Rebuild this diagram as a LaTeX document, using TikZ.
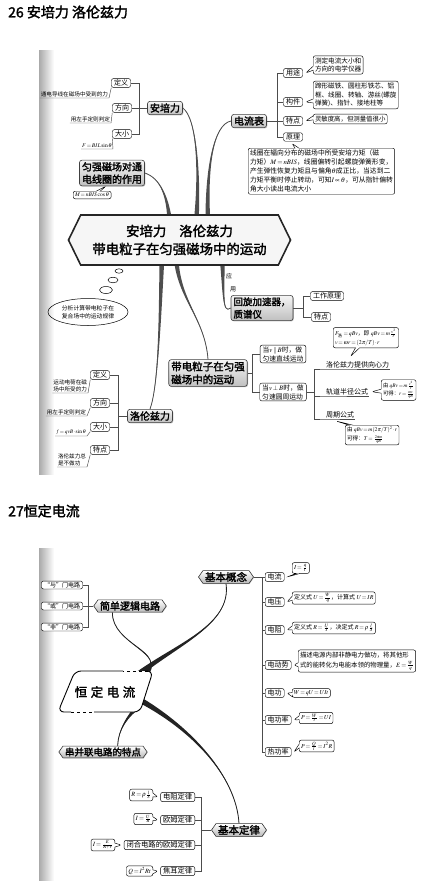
\documentclass[tikz,border=0pt]{standalone}
\usepackage{amsmath}
\usepackage{mathptmx}
\usepackage{fontspec}
\setmainfont{Noto Sans CJK SC}[AutoFakeBold=2]
\usetikzlibrary{shapes.geometric, shapes.symbols, shapes.callouts, shadows, calc, positioning, backgrounds}
\definecolor{branchGray}{RGB}{78, 78, 78}
\definecolor{branchDark}{RGB}{35, 35, 35}
\definecolor{gutterGray}{RGB}{170, 170, 170}

\tikzset{
  leaf/.style={draw, rounded corners=2pt, line width=0.45pt, fill=white, inner xsep=2.5pt, inner ysep=1.2pt, align=center, font=\fontsize{7}{8.5}\selectfont},
  notebox/.style={rectangle callout, draw, rounded corners=2pt, line width=0.45pt, fill=white, inner sep=1.8pt, align=left, callout pointer width=4pt, font=\fontsize{6.6}{8.6}\selectfont},
  uline/.style={inner sep=0.8pt, align=left, font=\fontsize{5.6}{7}\selectfont},
  topic/.style={draw=black!75, line width=0.6pt, rounded corners=2.5pt, top color=gray!8, bottom color=gray!50, drop shadow={shadow xshift=0.8pt, shadow yshift=-0.8pt, opacity=0.5}, inner xsep=2.5pt, inner ysep=2pt, align=left, font=\fontsize{10}{12.5}\selectfont\bfseries},
  hexa/.style={signal, signal to=west and east, signal pointer angle=110, draw=black!80, line width=0.6pt, top color=white, bottom color=gray!55, drop shadow={shadow xshift=0.6pt, shadow yshift=-0.6pt, opacity=0.4}, inner xsep=2pt, inner ysep=1.5pt, font=\fontsize{10}{12}\selectfont\bfseries},
  bracket/.style={line width=0.45pt, black!70},
}

% tapered branch: [half width] thick end, control, control, thin end
\newcommand{\mindbranch}[5][(2.5,0)]{%
  \fill ($(#2)+#1$) .. controls ($(#3)+0.4*#1$) and (#4) .. (#5)
    .. controls (#4) and ($(#3)-0.4*#1$) .. ($(#2)-#1$) -- cycle;
  \draw[line width=0.8pt] (#2) .. controls (#3) and (#4) .. (#5);}

\begin{document}
\thickmuskip=2.5mu plus 1mu \medmuskip=1.5mu plus 1mu
\begin{tikzpicture}[x=1pt, y=-1pt]
\useasboundingbox (0,0) rectangle (440,884);

% ---------- 26 ----------
\node[anchor=west, inner sep=0, font=\fontsize{14}{16}\selectfont\bfseries] (titleA) at (8,12) {26 安培力 洛伦兹力};

% Ampere force
\node[topic] (ampere) at (165,108) {安培力};
\node[leaf] (defA) at (121,83) {定义};
\node[leaf] (dirA) at (122,108) {方向};
\node[leaf] (magA) at (122,134) {大小};
\draw[bracket] (ampere.west) -- ++(-8,0) coordinate (ampJ);
\foreach \k in {defA,dirA,magA} \draw[bracket] (ampJ) |- (\k.east);
\node[uline, anchor=south east] (defAt) at (109,98) {通电导线在磁场中受到的力};
\node[uline, anchor=south east] (dirAt) at (111,123) {用左手定则判定};
\node[uline, anchor=south east, font=\fontsize{5.6}{6}\selectfont] (magAt) at (113,149) {$F=BIL\sin\theta$};
\foreach \b/\t in {defA/defAt, dirA/dirAt, magA/magAt}
  \draw[bracket] (\t.south west) -- (\t.south east) -- (\b.south west);

% coil
\node[topic, align=center] (coil) at (112,173) {匀强磁场对通\\电线圈的作用};
\node[notebox, anchor=north west, font=\fontsize{5.6}{6}\selectfont, callout absolute pointer={($(coil.south)+(-6,0)$)}] (coilF) at (73,191) {$M=nBIS\cos\theta$};

% galvanometer
\node[topic] (galvo) at (249,121) {电流表};
\node[leaf] (useG) at (293,73) {用途};
\node[leaf] (partG) at (293,102) {构件};
\node[leaf] (featG) at (293,121) {特点};
\node[leaf] (prinG) at (293,137) {原理};
\draw[bracket] (galvo.east) -- ++(10,0) coordinate (galJ);
\foreach \k in {useG,partG,featG,prinG} \draw[bracket] (galJ) |- (\k.west);
\node[notebox, anchor=west, callout absolute pointer={($(useG.east)+(3,0)$)}] (useN) at (313,65) {测定电流大小和\\方向的电学仪器};
\node[notebox, anchor=west, callout absolute pointer={($(partG.east)+(3,0)$)}] (partN) at (313,95) {蹄形磁铁、圆柱形铁芯、铝\\框、线圈、转轴、游丝(螺旋\\弹簧)、指针、接地柱等};
\node[notebox, anchor=west, font=\fontsize{6.4}{8}\selectfont, callout absolute pointer={($(featG.east)+(3,0)$)}] (featN) at (313,119) {灵敏度高，但测量值很小};
\node[notebox, anchor=north west, font=\fontsize{6.8}{9}\selectfont, callout absolute pointer={($(prinG.south)+(-1,2)$)}] (prinN) at (248,148) {线圈在辐向分布的磁场中所受安培力矩（磁\\力矩）$M=nBIS$，线圈偏转引起螺旋弹簧形变，\\产生弹性恢复力矩且与偏角$\theta$成正比，当达到二\\力矩平衡时停止转动，可知$I\propto\theta$，可从指针偏转\\角大小读出电流大小};

% centre
\node[signal, signal to=west and east, signal pointer angle=128, draw=black!85, line width=1.6pt, fill=gray!7, minimum width=222pt, minimum height=50pt, align=center, font=\fontsize{13.4}{18}\selectfont\bfseries] (topicA) at (179.5,240) {安培力\hspace{13pt}洛伦兹力\\带电粒子在匀强磁场中的运动};

% thought bubble
\node[draw, ellipse, line width=0.5pt, minimum width=80pt, minimum height=27pt, inner sep=0pt, align=center, font=\fontsize{5.8}{8}\selectfont] (analysis) at (88,312) {分析计算带电粒子在\\复合场中的运动规律};
\draw[line width=0.5pt] (119,271) ellipse (4pt and 2.2pt) (113,280) ellipse (5pt and 2.8pt) (106,290) ellipse (6.5pt and 3.5pt);

% cyclotron
\node[inner sep=0, font=\fontsize{6}{7}\selectfont] (useA) at (229,276) {应};
\node[inner sep=0, font=\fontsize{6}{7}\selectfont] (useB) at (233,289) {用};
\node[topic, font=\fontsize{9.5}{12.5}\selectfont\bfseries] (cyclo) at (262,308) {回旋加速器，\\质谱仪};
\node[leaf] (workC) at (327,296) {工作原理};
\node[leaf] (featC) at (321,317) {特点};
\draw[bracket] (cyclo.east) -- ++(10,0) coordinate (cycJ);
\foreach \k in {workC,featC} \draw[bracket] (cycJ) |- (\k.west);

% motion in field
\node[topic, font=\fontsize{10.5}{13}\selectfont\bfseries] (motion) at (208,373) {带电粒子在匀强\\磁场中的运动};
\node[leaf, align=left, font=\fontsize{6.8}{9}\selectfont] (paraM) at (283,354) {当$v\parallel B$时，做\\匀速直线运动};
\node[leaf, align=left, font=\fontsize{6.8}{9}\selectfont] (perpM) at (283,392) {当$v\perp B$时，做\\匀速圆周运动};
\draw[bracket] (motion.east) -- ++(5,0) coordinate (motJ);
\foreach \k in {paraM,perpM} \draw[bracket] (motJ) |- (\k.west);
\node[uline, anchor=south west, font=\fontsize{7}{8}\selectfont] (centri) at (325,369) {洛伦兹力提供向心力};
\node[uline, anchor=south west, font=\fontsize{7}{8}\selectfont] (radius) at (325,396) {轨道半径公式};
\node[uline, anchor=south west, font=\fontsize{7}{8}\selectfont] (period) at (325,419) {周期公式};
\draw[bracket] (perpM.east) -- ++(8,0) coordinate (perJ);
\foreach \k in {centri,radius,period} \draw[bracket] (perJ) |- (\k.south west) -- (\k.south east);
\node[notebox, anchor=south west, font=\fontsize{5.8}{9}\selectfont, callout absolute pointer={($(centri.north)+(-7,-4)$)}] (centriN) at (333,348) {$F_{\text{洛}}=qBv$，即 $qBv=m\frac{v^2}{r}$\\$v=\omega r=(2\pi/T)\cdot r$};
\node[notebox, anchor=west, font=\fontsize{5.4}{8.5}\selectfont, callout absolute pointer={($(radius.east)+(3,0)$)}] (radiusN) at (381,390) {由 $qBv=m\frac{v^2}{r}$\\可得：$r=\frac{mv}{qB}$};
\node[notebox, anchor=north west, font=\fontsize{5.6}{8.5}\selectfont, callout absolute pointer={($(period.south)+(-4,2)$)}] (periodN) at (345,425) {由 $qBv=m(2\pi/T)^2\cdot r$\\可得：$T=\frac{2\pi m}{qB}$};

% Lorentz force
\node[topic] (lorentz) at (150,416) {洛伦兹力};
\node[leaf] (defL) at (100,375) {定义};
\node[leaf] (dirL) at (100,403) {方向};
\node[leaf] (magL) at (100,427) {大小};
\node[leaf] (featL) at (100,450) {特点};
\draw[bracket] (lorentz.west) -- ++(-9,0) coordinate (lorJ);
\foreach \k in {defL,dirL,magL,featL} \draw[bracket] (lorJ) |- (\k.east);
\node[uline, anchor=south east] (defLt) at (88,393) {运动电荷在磁\\场中所受的力};
\node[uline, anchor=south east] (dirLt) at (87,416) {用左手定则判定};
\node[uline, anchor=south east, font=\fontsize{5.4}{6}\selectfont] (magLt) at (87,436) {$f=qvB\cdot\sin\theta$};
\node[uline, anchor=south east] (featLt) at (87,467) {洛伦兹力总\\是不做功};
\foreach \b/\t in {defL/defLt, dirL/dirLt, magL/magLt, featL/featLt}
  \draw[bracket] (\t.south west) -- (\t.south east) -- (\b.south west);

% ---------- 27 ----------
\node[anchor=west, inner sep=0, font=\fontsize{14}{16}\selectfont\bfseries] (titleB) at (8,511) {27恒定电流};

% centre
\fill[white, rounded corners=6pt] (75,671) -- (153,671) -- (140,712) -- (58,712) -- cycle;
\draw[line width=0.9pt, rounded corners=6pt] (123,671) -- (75,671) -- (58,712) -- (71,712);
\draw[line width=0.9pt, rounded corners=6pt] (94,712) -- (140,712) -- (153,671) -- (148,671);
\draw[line width=0.9pt, dashed] (71,712) -- (94,712) (148,671) -- (123,671);
\node[inner sep=1pt, font=\fontsize{12.5}{14}\selectfont\bfseries] (topicB) at (105,692) {恒\hspace{3.5pt}定\hspace{3.5pt}电\hspace{3.5pt}流};

% logic circuits
\node[hexa] (logic) at (130,606) {简单逻辑电路};
\node[leaf, font=\fontsize{6}{7}\selectfont] (andG) at (62,585) {“与”门电路};
\node[leaf, font=\fontsize{6}{7}\selectfont] (orG) at (62,606) {“或”门电路};
\node[leaf, font=\fontsize{6}{7}\selectfont] (notG) at (62,627) {“非”门电路};
\draw[bracket] (logic.west) -- ++(-5,0) coordinate (logJ);
\foreach \k in {andG,orG,notG} \draw[bracket] (logJ) |- (\k.east);

% basic concepts
\node[hexa, font=\fontsize{10.5}{12}\selectfont\bfseries] (concepts) at (226,577) {基本概念};
\node[leaf, anchor=west] (curC) at (265,577) {电流};
\node[leaf, anchor=west] (voltC) at (265,602) {电压};
\node[leaf, anchor=west] (resC) at (265,630) {电阻};
\node[leaf, anchor=west] (emfC) at (265,665) {电动势};
\node[leaf, anchor=west] (workW) at (265,693) {电功};
\node[leaf, anchor=west] (powC) at (265,720) {电功率};
\node[leaf, anchor=west] (heatC) at (265,752) {热功率};
\draw[bracket] (concepts.east) -- ++(8,0) coordinate (conJ);
\foreach \k in {curC,voltC,resC,emfC,workW,powC,heatC} \draw[bracket] (conJ) |- (\k.west);
\node[notebox, anchor=west, font=\fontsize{6}{7}\selectfont, callout absolute pointer={($(curC.east)+(2.5,0)$)}] (curN) at (292,568) {$I=\frac{q}{t}$};
\node[notebox, anchor=west, font=\fontsize{6}{7}\selectfont, callout absolute pointer={($(voltC.east)+(2.5,0)$)}] (voltN) at (292,598) {定义式 $U=\frac{W}{q}$，计算式 $U=IR$};
\node[notebox, anchor=west, font=\fontsize{6}{7}\selectfont, callout absolute pointer={($(resC.east)+(2.5,0)$)}] (resN) at (292,628) {定义式 $R=\frac{U}{I}$，决定式 $R=\rho\frac{l}{S}$};
\node[notebox, anchor=west, font=\fontsize{6.4}{10}\selectfont, callout absolute pointer={($(emfC.east)+(2.5,0)$)}] (emfN) at (298,661) {描述电源内部非静电力做功，将其他形\\式的能转化为电能本领的物理量，$E=\frac{W}{q}$};
\node[notebox, anchor=west, font=\fontsize{6}{7}\selectfont, callout absolute pointer={($(workW.east)+(2.5,0)$)}] (workN) at (292,693) {$W=qU=UIt$};
\node[notebox, anchor=west, font=\fontsize{6}{7}\selectfont, callout absolute pointer={($(powC.east)+(2.5,0)$)}] (powN) at (299,718) {$P=\frac{W}{t}=UI$};
\node[notebox, anchor=west, font=\fontsize{6}{7}\selectfont, callout absolute pointer={($(heatC.east)+(2.5,0)$)}] (heatN) at (299,746) {$P=\frac{Q}{t}=I^2R$};

% series and parallel
\node[hexa, font=\fontsize{9.5}{11}\selectfont\bfseries] (series) at (103,752) {串并联电路的特点};

% basic laws
\node[hexa, font=\fontsize{10.5}{12}\selectfont\bfseries] (laws) at (239,830) {基本定律};
\node[leaf, anchor=east, font=\fontsize{7.3}{8.5}\selectfont] (resL) at (195,797) {电阻定律};
\node[leaf, anchor=east, font=\fontsize{7.3}{8.5}\selectfont] (ohmL) at (195,820) {欧姆定律};
\node[leaf, anchor=east, font=\fontsize{7.3}{8.5}\selectfont] (closedL) at (195,845) {闭合电路的欧姆定律};
\node[leaf, anchor=east, font=\fontsize{7.3}{8.5}\selectfont] (jouleL) at (195,871) {焦耳定律};
\draw[bracket] (laws.west) -- ++(-10,0) coordinate (lawJ);
\foreach \k in {resL,ohmL,closedL,jouleL} \draw[bracket] (lawJ) |- (\k.east);
\node[notebox, anchor=east, font=\fontsize{6.4}{7}\selectfont, callout absolute pointer={($(resL.west)+(-2.5,0)$)}] (resLN) at (153,795) {$R=\rho\frac{l}{S}$};
\node[notebox, anchor=east, font=\fontsize{6.4}{7}\selectfont, callout absolute pointer={($(ohmL.west)+(-2.5,0)$)}] (ohmLN) at (153,819) {$I=\frac{U}{R}$};
\node[notebox, anchor=east, font=\fontsize{6.4}{7}\selectfont, callout absolute pointer={($(closedL.west)+(-2.5,0)$)}] (closedLN) at (115,845) {$I=\frac{E}{R+r}$};
\node[notebox, anchor=east, font=\fontsize{6.4}{7}\selectfont, callout absolute pointer={($(jouleL.west)+(-2.5,0)$)}] (jouleLN) at (153,871) {$Q=I^2Rt$};

% branches and scan gutter
\begin{scope}[on background layer]
  \shade[left color=gutterGray, right color=white] (39,50) rectangle (54,474);
  \shade[left color=gutterGray, right color=white] (39,548) rectangle (54,880);
  \coordinate (rootA1) at (196,224);
  \coordinate (rootA2) at (208,224);
  \coordinate (rootA3) at (170,224);
  \coordinate (rootA4) at (222,256);
  \coordinate (rootA5) at (176,256);
  \coordinate (rootA6) at (162,256);
  \begin{scope}[color=branchGray]
    \mindbranch{rootA1}{200,175}{197,118}{ampere.east}
    \mindbranch{rootA2}{206,170}{213,124}{galvo.west}
    \mindbranch{rootA3}{168,196}{160,178}{coil.east}
    \mindbranch{rootA4}{224,292}{222,315}{cyclo.west}
    \mindbranch{rootA5}{178,300}{205,318}{motion.north}
    \mindbranch{rootA6}{160,320}{158,388}{lorentz.north}
  \end{scope}
  \coordinate (rootB1) at (136,676);
  \coordinate (rootB2) at (146,674);
  \coordinate (rootB3) at (139,706);
  \coordinate (rootB4) at (140,700);
  \begin{scope}[color=branchDark]
    \mindbranch[(1.5,2.5)]{rootB1}{175,645}{232,625}{concepts.270}
    \mindbranch[(1,2.5)]{rootB2}{168,652}{112,645}{logic.200}
    \mindbranch[(2,1.5)]{rootB3}{128,715}{118,730}{series.23}
    \mindbranch[(-1.8,2.2)]{rootB4}{190,728}{236,775}{laws.90}
  \end{scope}
\end{scope}
\end{tikzpicture}
\end{document}
